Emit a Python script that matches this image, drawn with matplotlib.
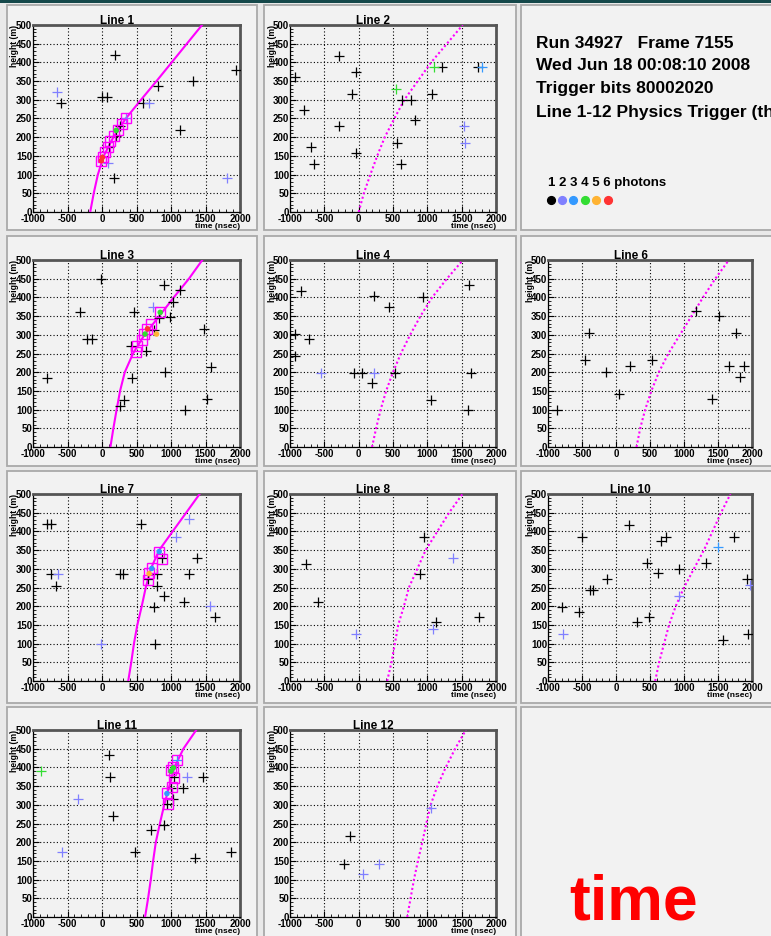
import matplotlib
matplotlib.use("Agg")
import matplotlib.pyplot as plt
from matplotlib.patches import Rectangle

plt.rcParams['font.family'] = ['Liberation Sans', 'DejaVu Sans']
plt.rcParams['font.weight'] = 'bold'
plt.rcParams['axes.unicode_minus'] = False

W, H = 771, 936

# photon count -> marker colour (1..6)
PHOTON_COLORS = ['black', '#8080ff', '#3399ff', '#33dd33', '#ffb333', '#ff3333']
PHOTON_LABEL = "1 2 3 4 5 6 photons"

RUN_INFO = ["Run 34927   Frame 7155",
            "Wed Jun 18 00:08:10 2008",
            "Trigger bits 80002020",
            "Line 1-12 Physics Trigger (th"]

# heights (m) where the expected arrival curve was read
Z_FIT = [0, 50, 100, 150, 200, 250, 300, 350, 400, 450, 500]

# ---- Line 1
L1_FIT = [-171, -120, -60, 25, 165, 345, 565, 790, 1010, 1230, 1450]
L1_T = [190, 0, 70, -600, -650, 815, 1312, 1937, 595, 683, 1137, 180, 1805, 83, 268, 205, 98, 351]
L1_Z = [421, 307, 307, 291, 322, 336, 349, 381, 291, 291, 220, 90, 90, 131, 231, 204, 173, 252]
L1_N = [1, 1, 1, 1, 2, 1, 1, 1, 1, 2, 1, 1, 2, 2, 1, 1, 1, 2]
L1_BOX_T = [-15, 10, 49, 83, 122, 171, 229, 288, 351]
L1_BOX_Z = [137, 146, 160, 173, 191, 204, 218, 234, 250]
L1_DOT_T = [-10, 5, 205]
L1_DOT_Z = [137, 146, 218]
L1_DOT_N = [6, 6, 4]

# ---- Line 2
L2_FIT = [0, 75, 170, 270, 380, 520, 665, 860, 1055, 1285, 1515]
L2_T = [-283, -34, -927, -98, -790, -283, -693, -644, -34, 537, 634, 756, 820, 561, 620,
        1098, 1220, 1073, 1740, 1790, 1537, 1546]
L2_Z = [418, 375, 361, 315, 272, 229, 173, 128, 158, 330, 300, 300, 245, 185, 128,
        388, 388, 316, 388, 388, 229, 185]
L2_N = [1, 1, 1, 1, 1, 1, 1, 1, 1, 4, 1, 1, 1, 1, 1, 4, 1, 1, 1, 3, 2, 2]

# ---- Line 3
L3_FIT = [122, 165, 212, 262, 330, 450, 615, 830, 1040, 1260, 1454]
L3_T = [-10, -317, -220, -146, -790, 893, 1137, 1024, 463, 985, 741, 1478, 1585, 912, 439,
        317, 268, 1210, 1527, 644, 415, 756, 829]
L3_Z = [448, 361, 289, 289, 185, 433, 419, 387, 361, 348, 375, 316, 215, 200, 185,
        125, 110, 99, 128, 258, 271, 313, 345]
L3_N = [1, 1, 1, 1, 1, 1, 1, 1, 1, 1, 2, 1, 1, 1, 1, 1, 1, 1, 1, 1, 1, 1, 1]
L3_BOX_T = [844, 707, 659, 610, 576, 512, 488]
L3_BOX_Z = [360, 330, 316, 303, 287, 271, 253]
L3_DOT_T = [790, 844, 659, 624]
L3_DOT_Z = [302, 360, 316, 302]
L3_DOT_N = [5, 4, 6, 4]

# ---- Line 4
L4_FIT = [195, 254, 320, 400, 500, 615, 750, 900, 1070, 1285, 1520]
L4_T = [-839, 229, 439, 937, 1610, -927, -722, -927, -551, -73, 49, 229, 195, 527, 1634, 1049, 1595]
L4_Z = [418, 403, 375, 401, 433, 302, 289, 244, 199, 199, 199, 199, 170, 199, 199, 127, 99]
L4_N = [1, 1, 1, 1, 1, 1, 1, 1, 2, 1, 1, 2, 1, 1, 1, 1, 1]

# ---- Line 6
L6_FIT = [302, 356, 429, 520, 630, 770, 940, 1110, 1280, 1460, 1660]
L6_T = [1171, 1512, 1766, -400, -463, 527, -146, 205, 39, -863, 1668, 1888, 1820, 1405]
L6_Z = [363, 349, 304, 304, 232, 232, 201, 217, 143, 100, 217, 217, 187, 129]
L6_N = [1] * 14

# ---- Line 7
L7_FIT = [380, 424, 463, 512, 576, 634, 707, 829, 1024, 1220, 1415]
L7_T = [-790, -741, 561, 1268, 1073, -732, -634, -668, 254, 302, -10, 1380, 1259, 1185,
        893, 795, 756, 766, 1571, 1634, 795, 673, 868]
L7_Z = [419, 419, 419, 433, 386, 285, 285, 255, 285, 285, 99, 328, 285, 211,
        228, 255, 197, 99, 200, 170, 285, 274, 328]
L7_N = [1, 1, 1, 2, 2, 1, 2, 1, 1, 1, 2, 1, 1, 1, 1, 1, 1, 1, 2, 1, 1, 1, 1]
L7_BOX_T = [829, 868, 722, 683, 673]
L7_BOX_Z = [345, 327, 303, 289, 270]
L7_DOT_T = [829, 722, 683]
L7_DOT_Z = [346, 301, 287]
L7_DOT_N = [3, 3, 5]

# ---- Line 8
L8_FIT = [415, 478, 527, 576, 659, 732, 854, 976, 1146, 1317, 1512]
L8_T = [951, 1380, -771, 888, -585, -34, 1122, 1088, 1756]
L8_Z = [386, 328, 314, 285, 211, 126, 157, 139, 170]
L8_N = [1, 2, 1, 1, 1, 2, 1, 2, 1]

# ---- Line 10
L10_FIT = [576, 634, 707, 780, 878, 1000, 1146, 1293, 1420, 1545, 1683]
L10_T = [195, -502, 659, 732, 1732, 1498, 454, 1317, 927, 624, -137, -376, -341, -790,
         -537, 307, 488, 927, -780, 1927, 1976, 1941, 1576]
L10_Z = [418, 386, 373, 386, 386, 358, 315, 315, 300, 288, 274, 243, 243, 198,
         184, 157, 170, 228, 126, 273, 256, 126, 110]
L10_N = [1, 1, 1, 1, 1, 3, 1, 1, 1, 1, 1, 1, 1, 1, 1, 1, 1, 2, 2, 1, 2, 1, 1]

# ---- Line 11
L11_FIT = [624, 668, 707, 741, 780, 839, 902, 976, 1049, 1180, 1366]
L11_T = [107, -888, 122, -341, 156, 717, 893, -576, 473, 1351, 1868, 1229, 1463, 1171,
         1024, 1000, 1049, 941, 1083]
L11_Z = [433, 390, 375, 316, 271, 233, 245, 173, 173, 157, 173, 375, 375, 345,
         316, 345, 375, 302, 421]
L11_N = [1, 4, 1, 2, 1, 1, 1, 2, 1, 1, 1, 2, 1, 1, 1, 1, 1, 1, 3]
L11_BOX_T = [1083, 1000, 1049, 1015, 941, 951, 1030]
L11_BOX_Z = [421, 392, 372, 347, 332, 302, 400]
L11_DOT_T = [941, 1034, 1000]
L11_DOT_Z = [330, 399, 390]
L11_DOT_N = [3, 4, 4]

# ---- Line 12
L12_FIT = [707, 756, 805, 863, 927, 985, 1049, 1146, 1268, 1405, 1561]
L12_T = [-132, -220, 63, 293, 1059]
L12_Z = [216, 141, 115, 141, 291]
L12_N = [1, 1, 2, 2, 2]

# pixel layout of the canvas
COL_AX_LEFT = [33, 290, 548]
COL_AX_W = [207, 206, 204]
ROW_AX_TOP = [25, 260, 494, 730]
AX_H = 187
PAD_COLS = [(7, 257), (264, 516), (521, 776)]
PAD_ROWS = [(5, 230), (236, 466), (471, 703), (707, 940)]

fig = plt.figure(figsize=(W / 100, H / 100), dpi=100)
fig.patch.set_facecolor('#e9e9e9')


def fig_rect(x0, y0, x1, y1, **kw):
    r = Rectangle((x0 / W, 1 - y1 / H), (x1 - x0) / W, (y1 - y0) / H,
                  transform=fig.transFigure, **kw)
    fig.add_artist(r)


# pads
for (px0, px1) in PAD_COLS:
    for (py0, py1) in PAD_ROWS:
        fig_rect(px0, py0, px1, py1, facecolor='#f2f2f2', edgecolor='#a9a9a9', lw=1.3, zorder=0)
fig_rect(0, 0, W, 3, facecolor='#15484a', edgecolor='none', zorder=1)


def draw_line(col, row, title, fit, ht, hz, hn, solid,
              box_t=None, box_z=None, dot_t=None, dot_z=None, dot_n=None):
    left = COL_AX_LEFT[col] / W
    bottom = 1 - (ROW_AX_TOP[row] + AX_H) / H
    ax = fig.add_axes([left, bottom, COL_AX_W[col] / W, AX_H / H])
    ax.set_facecolor('#f2f2f2')
    ax.set_xlim(-1000, 2000)
    ax.set_ylim(0, 500)
    ax.set_xticks(range(-1000, 2001, 500))
    ax.set_xticks(range(-1000, 2001, 100), minor=True)
    ax.set_yticks(range(0, 501, 50))
    ax.set_yticks(range(0, 501, 10), minor=True)
    ax.tick_params(which='major', direction='in', length=4, width=0.8,
                   labelsize=7, top=False, right=False)
    ax.tick_params(which='minor', direction='in', length=2, width=0.6, top=False, right=False)
    ax.tick_params(axis='x', pad=1.5)
    ax.tick_params(axis='y', pad=0.5)
    ax.grid(True, which='major', color='black', linestyle=(0, (1, 2)), lw=0.8)
    for s in ('top', 'right'):
        ax.spines[s].set_color('#555555')
        ax.spines[s].set_linewidth(2)
    for s in ('left', 'bottom'):
        ax.spines[s].set_linewidth(0.9)

    if solid:
        ax.plot(fit, Z_FIT, color='#ff00ff', lw=1.5, zorder=3)
    else:
        ax.plot(fit, Z_FIT, color='#ff00ff', lw=1.5, linestyle=(0, (1, 1.2)), zorder=3)

    for n in range(1, 7):
        xs = [t for t, k in zip(ht, hn) if k == n]
        ys = [z for z, k in zip(hz, hn) if k == n]
        if xs:
            ax.plot(xs, ys, '+', color=PHOTON_COLORS[n - 1], ms=7.5, mew=0.9, zorder=4)
    if box_t:
        ax.plot(box_t, box_z, 's', mfc='none', mec='#ff00ff', ms=6.5, mew=1.0, zorder=5)
    if dot_t:
        ax.scatter(dot_t, dot_z, s=16, c=[PHOTON_COLORS[n - 1] for n in dot_n],
                   zorder=6, linewidths=0)

    ax.text(0.405, 1.02, title, transform=ax.transAxes, ha='center', va='center',
            fontsize=8.5, fontweight='bold')
    ax.text(-0.087, 1.0, 'height (m)', transform=ax.transAxes, rotation=90,
            ha='center', va='top', fontsize=6.2, fontweight='bold')
    ax.text(1.0, -0.08, 'time (nsec)', transform=ax.transAxes, ha='right',
            va='center', fontsize=6, fontweight='bold')
    return ax


draw_line(0, 0, 'Line 1', L1_FIT, L1_T, L1_Z, L1_N, True, L1_BOX_T, L1_BOX_Z, L1_DOT_T, L1_DOT_Z, L1_DOT_N)
draw_line(1, 0, 'Line 2', L2_FIT, L2_T, L2_Z, L2_N, False)
draw_line(0, 1, 'Line 3', L3_FIT, L3_T, L3_Z, L3_N, True, L3_BOX_T, L3_BOX_Z, L3_DOT_T, L3_DOT_Z, L3_DOT_N)
draw_line(1, 1, 'Line 4', L4_FIT, L4_T, L4_Z, L4_N, False)
draw_line(2, 1, 'Line 6', L6_FIT, L6_T, L6_Z, L6_N, False)
draw_line(0, 2, 'Line 7', L7_FIT, L7_T, L7_Z, L7_N, True, L7_BOX_T, L7_BOX_Z, L7_DOT_T, L7_DOT_Z, L7_DOT_N)
draw_line(1, 2, 'Line 8', L8_FIT, L8_T, L8_Z, L8_N, False)
draw_line(2, 2, 'Line 10', L10_FIT, L10_T, L10_Z, L10_N, False)
draw_line(0, 3, 'Line 11', L11_FIT, L11_T, L11_Z, L11_N, True, L11_BOX_T, L11_BOX_Z, L11_DOT_T, L11_DOT_Z, L11_DOT_N)
draw_line(1, 3, 'Line 12', L12_FIT, L12_T, L12_Z, L12_N, False)

# run info block
for i, line in enumerate(RUN_INFO):
    fig.text(536 / W, 1 - (43 + i * 23) / H, line, ha='left', va='center',
             fontsize=12.5, fontweight='bold')

fig.text(548 / W, 1 - 183 / H, PHOTON_LABEL, ha='left', va='center', fontsize=9.5, fontweight='bold')
dot_x = [551, 562, 573, 585, 596, 608]
for x, c in zip(dot_x, PHOTON_COLORS):
    fig.add_artist(plt.Line2D([x / W], [1 - 200 / H], marker='o', ms=5.6, color=c,
                              mec=c, transform=fig.transFigure))

fig.text(634 / W, 1 - 920 / H, 'time', ha='center', va='baseline', fontsize=45,
         fontweight='bold', color='#ff0000')

fig.savefig('out.png', dpi=100, facecolor=fig.get_facecolor())
